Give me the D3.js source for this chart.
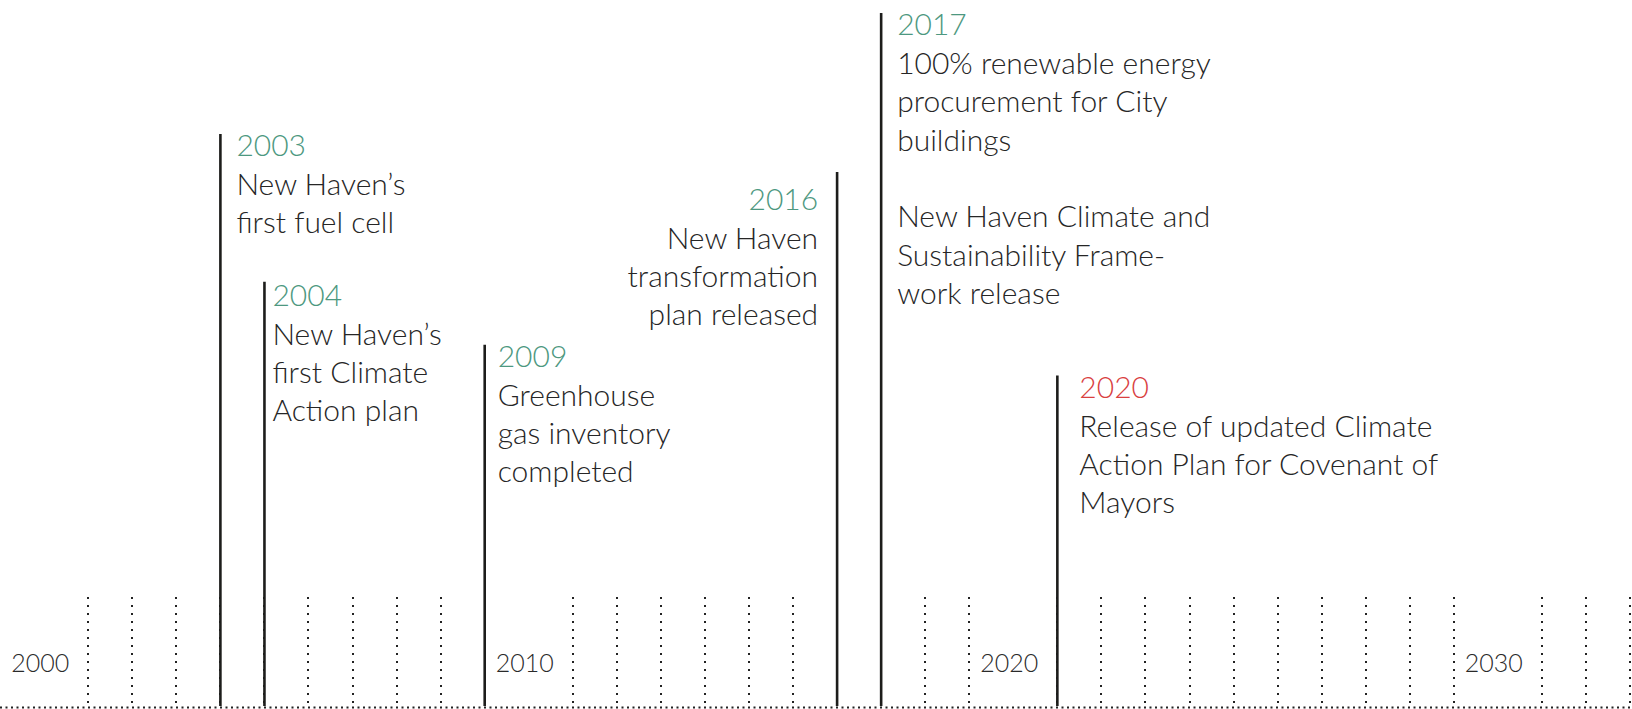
<!DOCTYPE html>
<html>
<head>
<meta charset="utf-8">
<script src="https://cdn.jsdelivr.net/npm/d3@7"></script>
<style>
  body { margin: 0; background: #fff; }
  svg { display: block; }
  text { font-family: Lato, 'Open Sans', sans-serif; font-weight: 300; }
</style>
</head>
<body>
<div id="viz"></div>
<script>
// decades get their own label slot before the ten year ticks
const decades = [2000, 2010, 2020, 2030];
const lastYear = 2032;

const eventYears = [2003, 2004, 2009, 2016, 2017, 2020];
// stem height of each milestone (0 = axis, 100 = top of the page)
const eventLevels = [81.7, 60.6, 51.6, 76.3, 99.0, 47.2];
const eventTexts = [
  ['New Haven\u2019s', 'first fuel cell'],
  ['New Haven\u2019s', 'first Climate', 'Action plan'],
  ['Greenhouse', 'gas inventory', 'completed'],
  ['New Haven', 'transformation', 'plan released'],
  ['100% renewable energy', 'procurement for City', 'buildings', '', 'New Haven Climate and', 'Sustainability Frame-', 'work release'],
  ['Release of updated Climate', 'Action Plan for Covenant of', 'Mayors']
];
const highlightYear = 2020;

// label placement tweaks per milestone
const labelLayout = {
  2003: { dx: 16, dy: 22 },
  2004: { dx: 8, dy: 24 },
  2009: { dx: 13, dy: 22 },
  2016: { dx: -19, dy: 38, anchor: 'end' },
  2017: { dx: 16, dy: 22 },
  2020: { dx: 22, dy: 22 }
};

const width = 1632;
const height = 709;
const axisY = 706;
const tickTop = 597;
const lineGap = 38.3;

const slots = [];
decades.forEach((dec) => {
  slots.push(`label-${dec}`);
  for (let y = dec; y < dec + 10 && y <= lastYear; y++) slots.push(String(y));
});

const x = d3.scalePoint()
  .domain(slots)
  .range([44.2, 1630]);

const y = d3.scaleLinear()
  .domain([0, 100])
  .range([axisY, 6]);

const events = eventYears.map((yr, i) => ({
  year: yr,
  level: eventLevels[i],
  lines: eventTexts[i]
}));

const canvas = d3.select('#viz')
  .append('svg')
  .attr('width', width)
  .attr('height', height);

// baseline
canvas.append('line')
  .attr('x1', 0)
  .attr('x2', width)
  .attr('y1', 707.5)
  .attr('y2', 707.5)
  .attr('stroke', '#222')
  .attr('stroke-width', 2)
  .attr('stroke-dasharray', '2,3.5');

// dotted year ticks
const yearSlots = slots.filter((s) => !s.startsWith('label'));
canvas.append('g')
  .selectAll('line').data(yearSlots)
  .enter().append('line')
    .attr('x1', (d) => Math.round(x(d)))
    .attr('x2', (d) => Math.round(x(d)))
    .attr('y1', tickTop)
    .attr('y2', 704)
    .attr('stroke', '#222')
    .attr('stroke-width', 2)
    .attr('stroke-dasharray', '2,6');

// decade labels
canvas.append('g')
  .selectAll('text').data(decades)
  .enter().append('text')
    .attr('x', (d) => x(`label-${d}`) - 4)
    .attr('y', 671.5)
    .attr('text-anchor', 'middle')
    .attr('font-size', 25)
    .attr('fill', '#2a2a2a')
    .text((d) => d);

// milestone stems
canvas.append('g')
  .selectAll('line').data(events)
  .enter().append('line')
    .attr('x1', (d) => x(String(d.year)))
    .attr('x2', (d) => x(String(d.year)))
    .attr('y1', (d) => y(d.level))
    .attr('y2', axisY)
    .attr('stroke', '#1d1d1b')
    .attr('stroke-width', 2.6);

// milestone labels
const labels = canvas.append('g')
  .selectAll('g').data(events)
  .enter().append('g')
    .attr('transform', (d) => {
      const lay = labelLayout[d.year];
      return `translate(${x(String(d.year)) + lay.dx}, ${y(d.level) + lay.dy})`;
    });

labels.append('text')
  .attr('text-anchor', (d) => labelLayout[d.year].anchor || 'start')
  .attr('font-size', 30)
  .attr('fill', (d) => d.year === highlightYear ? '#d9403f' : '#4d9880')
  .text((d) => d.year);

labels.append('text')
  .attr('text-anchor', (d) => labelLayout[d.year].anchor || 'start')
  .attr('font-size', 30)
  .attr('fill', '#262626')
  .selectAll('tspan').data((d) => d.lines)
  .enter().append('tspan')
    .attr('x', 0)
    .attr('y', (d, i) => 39 + i * lineGap)
    .text((d) => d);
</script>
</body>
</html>
